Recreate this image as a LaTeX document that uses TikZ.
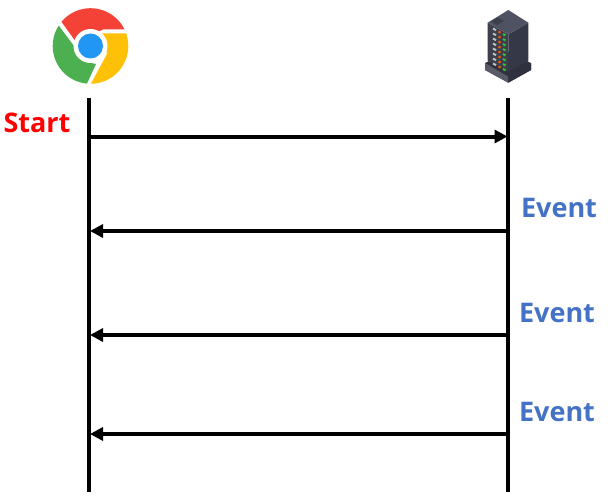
\documentclass[tikz,border=0pt]{standalone}
\usepackage{fontspec}
\setmainfont{Open Sans}
\usetikzlibrary{arrows.meta}
\definecolor{evblue}{HTML}{4472C4}
\definecolor{srvtop}{HTML}{4E5262}
\definecolor{srvleft}{HTML}{3C3F4C}
\definecolor{srvright}{HTML}{353846}
\definecolor{srvbase}{HTML}{2F323E}
\tikzset{
  lifeline/.style={line width=4pt,black},
  msg/.style={line width=4pt,black,-{Triangle[length=13pt,width=13pt]},shorten >=0pt},
  label/.style={font=\fontsize{27}{30}\selectfont\bfseries,anchor=base,inner sep=0pt},
  led/.style={line width=2pt}
}
\begin{document}
\begin{tikzpicture}[x=1pt,y=-1pt]
\useasboundingbox (0,0) rectangle (609,500);
% Chrome icon
\begin{scope}
\clip (90.5,46) circle (37.8);
\fill[white] (90.5,46) circle (38);
\fill[fill={rgb,255:red,76;green,175;blue,80}] (40,10) -- (59,26) -- (86,62) -- (96,64) -- (84,90) -- (40,90) -- cycle;
\fill[fill={rgb,255:red,255;green,193;blue,7}] (102,33.5) -- (135,33.5) -- (135,90) -- (87.5,90) -- (107,54) -- cycle;
\fill[fill={rgb,255:red,244;green,67;blue,54}] (62,22.5) -- (76,42) -- (103,29.5) -- (135,29.5) -- (135,0) -- (50,0) -- cycle;
\fill[white] (90.5,46) circle (17);
\fill[fill={rgb,255:red,33;green,150;blue,243}] (90.5,46) circle (12.5);
\end{scope}
% Server icon
\fill[srvbase] (485,63) -- (508.3,52) -- (531,63) -- (531,70) -- (508.3,82.7) -- (485,70) -- cycle;
\fill[srvleft!85!white] (485,63) -- (508.3,76.7) -- (508.3,82.7) -- (485,70) -- cycle;
\fill[srvbase] (531,63) -- (508.3,76.7) -- (508.3,82.7) -- (531,70) -- cycle;
\fill[srvleft] (487.7,22.7) -- (508.3,34.3) -- (508.3,71.7) -- (487.7,60.7) -- cycle;
\fill[srvright] (528.3,22.7) -- (508.3,34.3) -- (508.3,71.7) -- (528.3,60.7) -- cycle;
\fill[srvtop] (508.3,10) -- (528.3,22.7) -- (508.3,34.3) -- (487.7,22.7) -- cycle;
\fill[srvleft] (491,21.5) -- (498,17.5) -- (504,21) -- (497,25) -- cycle;
\foreach \i in {0,...,7}{
  \draw[led,color=gray!50!white] (493,{28.5+\i*5}) -- (496,{30.2+\i*5});
  \draw[led,color=orange!70!red] (498.5,{31.5+\i*5}) -- (500.5,{32.6+\i*5});
  \draw[led,color=green!70!black!80!white] (503,{34+\i*5}) -- (505.5,{35.4+\i*5});
}
% Lifelines
\coordinate (clientTop) at (88.5,98);
\coordinate (clientBot) at (88.5,492);
\coordinate (serverTop) at (507.5,98);
\coordinate (serverBot) at (507.5,492);
\draw[lifeline] (clientTop) -- (clientBot);
\draw[lifeline] (serverTop) -- (serverBot);
% Messages
\coordinate (c0) at (88.5,136.5);
\coordinate (s0) at (507.5,136.5);
\coordinate (c1) at (90,231);
\coordinate (s1) at (507.5,231);
\coordinate (c2) at (90,335);
\coordinate (s2) at (507.5,335);
\coordinate (c3) at (90,434);
\coordinate (s3) at (507.5,434);
\draw[msg] (c0) -- (s0);
\draw[msg] (s1) -- (c1);
\draw[msg] (s2) -- (c2);
\draw[msg] (s3) -- (c3);
% Labels
\node[label,text=red] (start) at (37,132.7) {Start};
\node[label,text=evblue] (ev1) at (559,217.3) {Event};
\node[label,text=evblue] (ev2) at (557,322) {Event};
\node[label,text=evblue] (ev3) at (557,421) {Event};
\end{tikzpicture}
\end{document}
